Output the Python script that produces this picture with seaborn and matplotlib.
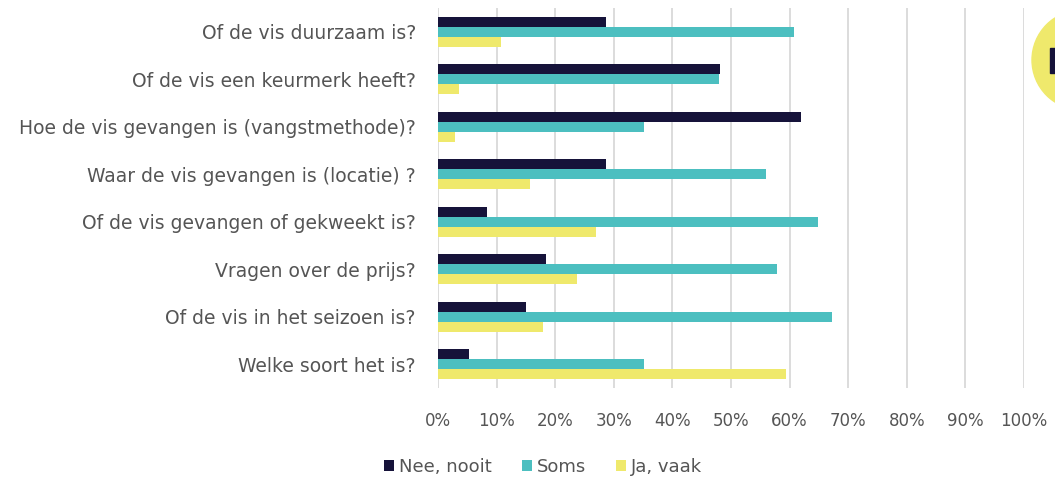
import matplotlib
matplotlib.use("Agg")
import matplotlib.pyplot as plt
from matplotlib.patches import Ellipse, Rectangle
from matplotlib.ticker import MultipleLocator, PercentFormatter
import pandas as pd
import seaborn as sns

# Survey questions (top to bottom)
questions = [
    "Of de vis duurzaam is?",
    "Of de vis een keurmerk heeft?",
    "Hoe de vis gevangen is (vangstmethode)?",
    "Waar de vis gevangen is (locatie) ?",
    "Of de vis gevangen of gekweekt is?",
    "Vragen over de prijs?",
    "Of de vis in het seizoen is?",
    "Welke soort het is?",
]
answers = ["Nee, nooit", "Soms", "Ja, vaak"]

# Share of respondents (%) per answer
nee_nooit = [28.7, 48.2, 62.0, 28.7, 8.3, 18.4, 15.0, 5.3]
soms = [60.8, 48.0, 35.2, 56.0, 64.8, 57.8, 67.2, 35.2]
ja_vaak = [10.7, 3.6, 2.9, 15.7, 26.9, 23.7, 17.9, 59.4]

colors = ["#16133a", "#4cbfc0", "#efe96c"]
text_color = "#555555"

df = pd.DataFrame({
    "vraag": questions * 3,
    "antwoord": [a for a in answers for _ in questions],
    "pct": nee_nooit + soms + ja_vaak,
})

sns.set_theme(style="white")
plt.rcParams["font.family"] = ["DejaVu Sans"]

fig = plt.figure(figsize=(10.55, 4.79), dpi=100)
ax = fig.add_axes([438 / 1055, 1 - 388 / 479, (1024 - 438) / 1055, (388 - 8) / 479])

sns.barplot(
    data=df, x="pct", y="vraag", hue="antwoord",
    order=questions, hue_order=answers, palette=colors,
    width=0.64, saturation=1, errorbar=None, linewidth=0,
    ax=ax, legend=True,
)

ax.set_xlim(0, 100)
ax.set_ylim(len(questions) - 0.5, -0.5)
ax.xaxis.set_major_locator(MultipleLocator(10))
ax.xaxis.set_major_formatter(PercentFormatter(decimals=0))
ax.grid(axis="x", color="#d9d9d9", linewidth=1.3)
ax.set_axisbelow(True)
for s in ax.spines.values():
    s.set_visible(False)
ax.set_xlabel("")
ax.set_ylabel("")
ax.tick_params(axis="x", length=0, pad=17, labelsize=12, colors=text_color)
ax.tick_params(axis="y", length=0, pad=16, labelsize=13.5, colors=text_color)

handles, labels = ax.get_legend_handles_labels()
ax.get_legend().remove()
fig.legend(
    handles, labels, loc="center", bbox_to_anchor=(543 / 1055, 1 - 467 / 479),
    ncol=3, frameon=False, fontsize=13, labelcolor=text_color,
    handlelength=0.55, handleheight=0.55, handletextpad=0.25, columnspacing=1.7,
)

# Yellow badge at the right edge
fig.add_artist(Ellipse((1082 / 1055, 1 - 60 / 479), 100 / 1055, 100 / 479,
                       transform=fig.transFigure, color="#efe96c", zorder=5))
fig.add_artist(Rectangle((1050 / 1055, 1 - 73 / 479), 6 / 1055, 25 / 479,
                         transform=fig.transFigure, color="#16133a", zorder=6))

fig.savefig("out.png", dpi=100, facecolor="white")
